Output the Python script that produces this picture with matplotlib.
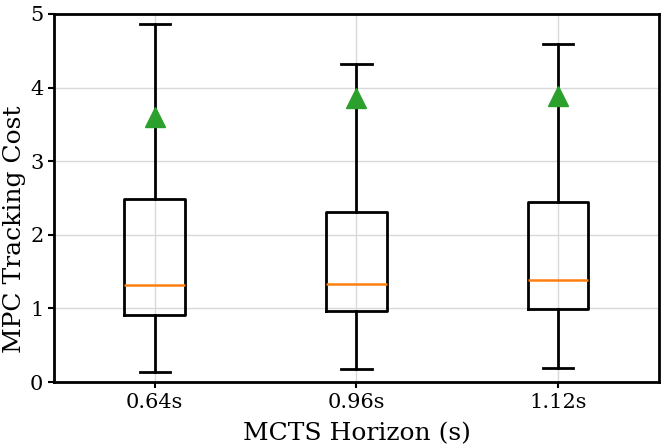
import matplotlib.pyplot as plt

horizons = ["0.64s", "0.96s", "1.12s"]
q1 = [0.91, 0.96, 0.99]
medians = [1.32, 1.33, 1.39]
q3 = [2.49, 2.31, 2.44]
whis_low = [0.14, 0.18, 0.19]
whis_high = [4.86, 4.32, 4.59]
means = [3.60, 3.86, 3.89]

plt.rcParams["font.family"] = ["DejaVu Serif"]

stats = []
for i, label in enumerate(horizons):
    stats.append({
        "label": label,
        "q1": q1[i],
        "med": medians[i],
        "q3": q3[i],
        "whislo": whis_low[i],
        "whishi": whis_high[i],
        "mean": means[i],
        "fliers": [],
    })

fig, ax = plt.subplots(figsize=(6.65, 4.48), dpi=100)
fig.subplots_adjust(left=0.081, right=0.991, top=0.969, bottom=0.147)

ax.bxp(
    stats,
    showmeans=True,
    boxprops={"linewidth": 2, "color": "black"},
    whiskerprops={"linewidth": 2, "color": "black"},
    capprops={"linewidth": 2, "color": "black"},
    medianprops={"linewidth": 1.8, "color": "#ff7f0e"},
    meanprops={"marker": "^", "markerfacecolor": "#2ca02c",
               "markeredgecolor": "#2ca02c", "markersize": 14},
)

ax.set_ylim(0, 5)
ax.set_yticks([0, 1, 2, 3, 4, 5])
ax.grid(True, color="#d9d9d9", linewidth=1)
ax.set_axisbelow(True)
for spine in ax.spines.values():
    spine.set_linewidth(2)
ax.tick_params(labelsize=15, width=1.5, length=4)
ax.set_xlabel("MCTS Horizon (s)", fontsize=18, labelpad=8)
ax.set_ylabel("MPC Tracking Cost", fontsize=18)
ax.yaxis.set_label_coords(-0.046, 0.415)

plt.savefig("out.png")
plt.close()
